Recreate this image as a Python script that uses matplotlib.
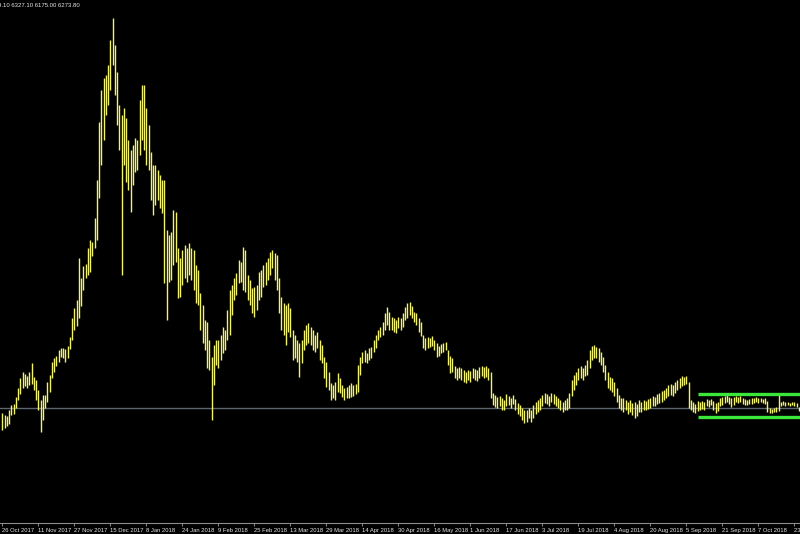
import matplotlib
matplotlib.use("Agg")
import matplotlib.pyplot as plt

# daily bars, BTCUSD, 26 Oct 2017 .. 23 Oct 2018 (prices)
highs = [
    6116, 6046, 6011, 6221, 6396, 6431, 6676, 6991, 7341, 7551, 7481, 7411, 7551, 7866, 7376, 7271,
    6921, 6571, 6746, 6746, 7201, 7446, 7901, 8041, 8111, 8321, 8391, 8391, 8356, 8461, 8776, 9441,
    9791, 10071, 11541, 10841, 11261, 11331, 11891, 12171, 12101, 12941, 14271, 16301, 17421, 17841, 17946, 18296,
    19171, 19941, 18996, 18051, 16896, 16546, 16791, 16441, 15671, 15321, 15496, 15741, 15671, 17071, 17596, 17596,
    16791, 16196, 15251, 14796, 14796, 14621, 14446, 14271, 14271, 12521, 12346, 12451, 13221, 13151, 11891, 11541,
    11821, 11996, 11891, 12066, 11891, 11821, 11296, 11121, 10316, 9896, 9371, 9301, 8671, 8076, 8496, 8671,
    8671, 8846, 9126, 9021, 9721, 10421, 10596, 10841, 11016, 11471, 11401, 11926, 11821, 10946, 10771, 10491,
    10526, 10596, 11051, 11121, 11296, 11401, 11541, 11751, 11821, 11716, 11646, 10841, 10176, 9966, 9896, 9966,
    9791, 9021, 8846, 8671, 8566, 8671, 9021, 9196, 9266, 9126, 9021, 8846, 8951, 8671, 8496, 8076,
    7901, 7551, 7166, 7096, 7201, 7516, 7341, 7096, 6991, 7026, 7096, 7166, 7096, 7131, 7796, 8076,
    8251, 8321, 8216, 8391, 8426, 8671, 8846, 9021, 9126, 9301, 9616, 9826, 9651, 9476, 9441, 9371,
    9476, 9441, 9616, 9826, 9966, 10001, 9861, 9651, 9616, 9441, 9301, 8846, 8741, 8776, 8741, 8811,
    8671, 8566, 8461, 8531, 8566, 8601, 8321, 8111, 8041, 7761, 7691, 7726, 7691, 7621, 7551, 7621,
    7586, 7691, 7656, 7621, 7726, 7761, 7726, 7761, 7691, 7551, 6816, 6746, 6676, 6711, 6641, 6571,
    6781, 6711, 6641, 6746, 6606, 6466, 6396, 6291, 6221, 6221, 6291, 6221, 6396, 6501, 6571, 6641,
    6746, 6816, 6781, 6711, 6816, 6781, 6711, 6641, 6571, 6501, 6571, 6641, 6816, 7271, 7446, 7551,
    7691, 7761, 7691, 7796, 7971, 8321, 8461, 8496, 8426, 8391, 8251, 8076, 7796, 7551, 7376, 7341,
    7201, 6991, 6746, 6641, 6641, 6571, 6501, 6571, 6466, 6501, 6431, 6571, 6501, 6571, 6536, 6606,
    6641, 6711, 6676, 6781, 6816, 6886, 6921, 6991, 7096, 7131, 7096, 7201, 7271, 7341, 7411, 7376,
    7411, 7201, 6571, 6501, 6431, 6536, 6501, 6536, 6501, 6606, 6571, 6606, 6536, 6466, 6501, 6641,
    6676, 6711, 6746, 6676, 6641, 6676, 6711, 6676, 6711, 6641, 6606, 6571, 6606, 6641, 6641, 6676,
    6641, 6641, 6606, 6641, 6536, 6291, 6256, 6291, 6326, 6746, 6501, 6536, 6501, 6501, 6466, 6501,
    6501, 6466, 6327.1,
]
lows = [
    5521, 5591, 5661, 5731, 6046, 6081, 6291, 6571, 6781, 6991, 7061, 6991, 7096, 7131, 6921, 6571,
    6221, 5451, 5871, 6291, 6501, 6851, 7341, 7551, 7761, 7901, 8076, 8041, 7901, 8041, 8356, 8671,
    9021, 9161, 9441, 9861, 10421, 10841, 10946, 11051, 11611, 11891, 12171, 13641, 14796, 15671, 16546, 16896,
    17421, 18296, 17246, 16196, 15321, 10946, 14796, 14201, 13921, 13151, 14096, 14551, 14621, 15146, 15671, 15321,
    14796, 14621, 13571, 13046, 13396, 13571, 13291, 13116, 10666, 9371, 10701, 10771, 11296, 11401, 10141, 10176,
    10596, 10841, 10701, 10946, 10771, 10421, 9966, 9896, 9021, 8566, 8321, 7691, 7621, 5871, 7096, 7796,
    7691, 7971, 8216, 8321, 8671, 8846, 9546, 10071, 10246, 10666, 10701, 10421, 10351, 10071, 9896, 9616,
    9476, 9721, 10071, 10176, 10526, 10596, 10771, 10946, 11191, 10771, 10421, 9616, 9021, 8846, 8496, 8951,
    8776, 7971, 8041, 7901, 7376, 7866, 8321, 8496, 8566, 8496, 8321, 8251, 8391, 7971, 7866, 7341,
    7026, 6921, 6571, 6641, 6571, 6851, 6816, 6676, 6571, 6641, 6641, 6676, 6711, 6781, 6851, 7446,
    7866, 7901, 7866, 7971, 8041, 8251, 8391, 8671, 8776, 8846, 9021, 9196, 9021, 9021, 8951, 8916,
    9091, 9021, 9126, 9371, 9441, 9546, 9441, 9301, 9196, 8951, 8811, 8391, 8321, 8391, 8426, 8461,
    8321, 8076, 8111, 8216, 8251, 8321, 7796, 7516, 7551, 7341, 7271, 7341, 7271, 7201, 7166, 7271,
    7201, 7341, 7271, 7236, 7341, 7411, 7341, 7376, 7271, 6641, 6396, 6326, 6291, 6361, 6221, 6221,
    6361, 6396, 6291, 6431, 6221, 6081, 6011, 5871, 5766, 5801, 5941, 5801, 5941, 6081, 6151, 6221,
    6361, 6466, 6431, 6361, 6501, 6431, 6361, 6291, 6221, 6151, 6221, 6221, 6291, 6711, 6921, 7096,
    7271, 7341, 7271, 7411, 7446, 7691, 7971, 8041, 8041, 7901, 7796, 7551, 7271, 6991, 6921, 6851,
    6711, 6501, 6291, 6221, 6151, 6221, 6081, 6151, 6046, 5941, 6011, 6151, 6151, 6221, 6221, 6256,
    6291, 6361, 6361, 6431, 6466, 6501, 6571, 6641, 6711, 6746, 6711, 6816, 6921, 6991, 7061, 7096,
    7131, 6291, 6221, 6151, 6116, 6186, 6221, 6256, 6221, 6361, 6326, 6396, 6221, 6116, 6186, 6361,
    6396, 6466, 6501, 6431, 6326, 6396, 6501, 6466, 6501, 6431, 6396, 6396, 6431, 6431, 6466, 6501,
    6466, 6501, 6466, 6431, 6151, 6116, 6116, 6151, 6151, 6186, 6361, 6396, 6361, 6396, 6361, 6396,
    6361, 6326, 6175.0,
]
date_labels = [
    "26 Oct 2017", "11 Nov 2017", "27 Nov 2017", "15 Dec 2017", "8 Jan 2018", "24 Jan 2018",
    "9 Feb 2018", "25 Feb 2018", "13 Mar 2018", "29 Mar 2018", "14 Apr 2018", "30 Apr 2018",
    "16 May 2018", "1 Jun 2018", "17 Jun 2018", "3 Jul 2018", "19 Jul 2018", "4 Aug 2018",
    "20 Aug 2018", "5 Sep 2018", "21 Sep 2018", "7 Oct 2018", "23 Oct 2018",
]
last_bar = ["6249.10", "6327.10", "6175.00", "6273.80"]   # open high low close
channel_top = 6780
channel_bottom = 5965
channel_start = 309   # bar index where the drawn lines begin

BG = "#000000"
BAR = "#f4f46a"
TXT = "#e6e6e6"

fig = plt.figure(figsize=(8, 5.34), dpi=100, facecolor=BG)
ax = fig.add_axes([0, 11 / 534, 1, 523 / 534], facecolor=BG)

idx = list(range(len(highs)))
ax.vlines(idx, lows, highs, color=BAR, linewidth=1.0)

# bid line at last close
ax.axhline(float(last_bar[3]), color="#5c6670", linewidth=1.0, zorder=1)

# green channel lines
ax.hlines([channel_top, channel_bottom], channel_start, 360, color="#3ae63a", linewidth=2.4, zorder=3)

ax.set_xlim(-1.022, 354.53)
ax.set_ylim(2266, 20571)

for s in ["top", "left", "right"]:
    ax.spines[s].set_visible(False)
ax.spines["bottom"].set_color("#8c8c8c")
ax.spines["bottom"].set_linewidth(0.8)
ax.set_yticks([])

ticks = list(range(0, len(highs), 16))
ax.set_xticks(ticks)
ax.set_xticklabels(date_labels[:len(ticks)], fontsize=4.2, family="Liberation Sans", color=TXT, ha="left")
ax.tick_params(axis="x", direction="out", length=2.5, width=0.7, color="#8c8c8c", pad=1.0)

fig.text(80 / 800, 1 - 5 / 534, "BTCUSD,Daily  " + " ".join(last_bar), fontsize=4.3,
         family="Liberation Sans", color=TXT, ha="right", va="center")

fig.savefig("out.png", dpi=100, facecolor=BG)
